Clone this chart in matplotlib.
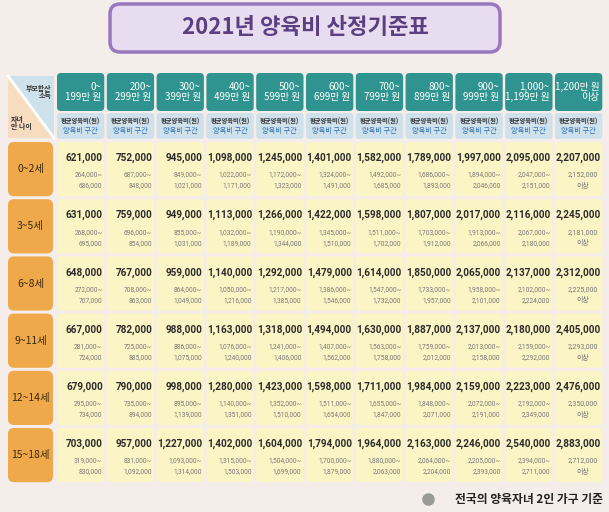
import matplotlib.pyplot as plt
from matplotlib.patches import FancyBboxPatch, Polygon

plt.rcParams["font.family"] = ["Noto Sans CJK JP", "DejaVu Sans"]
NUM = ["Roboto", "Noto Sans CJK JP"]

# 데이터
incomes = ["0~\n199만 원", "200~\n299만 원", "300~\n399만 원", "400~\n499만 원",
           "500~\n599만 원", "600~\n699만 원", "700~\n799만 원", "800~\n899만 원",
           "900~\n999만 원", "1,000~\n1,199만 원", "1,200만 원\n이상"]
ages = ["0~2세", "3~5세", "6~8세", "9~11세", "12~14세", "15~18세"]
avg = [
    [621000, 752000, 945000, 1098000, 1245000, 1401000, 1582000, 1789000, 1997000, 2095000, 2207000],
    [631000, 759000, 949000, 1113000, 1266000, 1422000, 1598000, 1807000, 2017000, 2116000, 2245000],
    [648000, 767000, 959000, 1140000, 1292000, 1479000, 1614000, 1850000, 2065000, 2137000, 2312000],
    [667000, 782000, 988000, 1163000, 1318000, 1494000, 1630000, 1887000, 2137000, 2180000, 2405000],
    [679000, 790000, 998000, 1280000, 1423000, 1598000, 1711000, 1984000, 2159000, 2223000, 2476000],
    [703000, 957000, 1227000, 1402000, 1604000, 1794000, 1964000, 2163000, 2246000, 2540000, 2883000],
]
low = [
    [264000, 687000, 849000, 1022000, 1172000, 1324000, 1492000, 1686000, 1894000, 2047000, 2152000],
    [268000, 696000, 855000, 1032000, 1190000, 1345000, 1511000, 1703000, 1913000, 2067000, 2181000],
    [272000, 708000, 864000, 1050000, 1217000, 1386000, 1547000, 1733000, 1958000, 2102000, 2225000],
    [281000, 725000, 886000, 1076000, 1241000, 1407000, 1563000, 1759000, 2013000, 2159000, 2293000],
    [295000, 735000, 895000, 1140000, 1352000, 1511000, 1655000, 1848000, 2072000, 2192000, 2350000],
    [319000, 831000, 1093000, 1315000, 1504000, 1700000, 1880000, 2064000, 2205000, 2394000, 2712000],
]
high = [
    [686000, 848000, 1021000, 1171000, 1323000, 1491000, 1685000, 1893000, 2046000, 2151000, None],
    [695000, 854000, 1031000, 1189000, 1344000, 1510000, 1702000, 1912000, 2066000, 2180000, None],
    [707000, 863000, 1049000, 1216000, 1385000, 1546000, 1732000, 1957000, 2101000, 2224000, None],
    [724000, 885000, 1075000, 1240000, 1406000, 1562000, 1758000, 2012000, 2158000, 2292000, None],
    [734000, 894000, 1139000, 1351000, 1510000, 1654000, 1847000, 2071000, 2191000, 2349000, None],
    [830000, 1092000, 1314000, 1503000, 1699000, 1879000, 2063000, 2204000, 2393000, 2711000, None],
]

fig = plt.figure(figsize=(6.09, 5.12), dpi=100)
fig.patch.set_facecolor("#f4ede9")
ax = fig.add_axes([0, 0, 1, 1])
ax.set_xlim(0, 609)
ax.set_ylim(512, 0)
ax.axis("off")

def box(x, y, w, h, fc, ec="none", r=4, lw=0):
    ax.add_patch(FancyBboxPatch((x + r, y + r), w - 2 * r, h - 2 * r,
                                boxstyle="round,pad=%d" % r, fc=fc, ec=ec, lw=lw))

# 제목
box(110, 4, 390, 48, "#e8ddf0", ec="#9a78bd", r=10, lw=2.5)
ax.text(305, 27, "2021년 양육비 산정기준표", ha="center", va="center",
        fontsize=16, color="#5b3f80", fontweight="bold")

# 모서리 칸
ax.add_patch(Polygon([(8, 76), (54, 76), (54, 138)], fc="#cfe1ea", ec="none"))
ax.add_patch(Polygon([(8, 76), (8, 138), (54, 138)], fc="#f7dcc0", ec="none"))
ax.plot([8, 54], [76, 138], color="white", lw=2)
ax.text(51, 92, "부모합산\n소득", ha="right", va="center", fontsize=5, fontweight="bold", color="#333", linespacing=1.1)
ax.text(11, 123, "자녀\n만 나이", ha="left", va="center", fontsize=5, fontweight="bold", color="#333", linespacing=1.1)

x0, cw, gap = 57, 49.8, 2.5
y0, rh = 142, 57.2
for j, lab in enumerate(incomes):
    x = x0 + j * cw
    w = cw - gap
    box(x, 73, w, 38, "#2f948f", r=4)
    ax.text(x + w - 3, 92, lab, ha="right", va="center", fontsize=7,
            color="white", linespacing=1.0)
    box(x, 113, w, 26, "#cfe1ea", r=3)
    ax.text(x + w / 2, 121, "평균양육비(원)", ha="center", va="center", fontsize=4.5, color="#333", fontweight="bold")
    ax.text(x + w / 2, 130.5, "양육비 구간", ha="center", va="center", fontsize=5.2, color="#2d6fb0")

for i, age in enumerate(ages):
    y = y0 + i * rh
    box(8, y, 45, rh - 3, "#f0a94a", r=6)
    ax.text(30.5, y + rh / 2 - 1.5, age, ha="center", va="center", fontsize=7.5, color="#3a2a10")
    for j in range(len(incomes)):
        x = x0 + j * cw
        w = cw - gap
        box(x, y, w, rh - 3, "#fbf5c6", r=3)
        ax.text(x + w - 1.5, y + 16, f"{avg[i][j]:,}", ha="right", va="center",
                fontsize=7.2, color="#2b2b2b", fontweight="bold", family=NUM)
        if high[i][j] is None:
            ax.text(x + w / 2 + 4, y + 33, f"{low[i][j]:,}", ha="center", va="center", fontsize=5, color="#777", family=NUM)
            ax.text(x + w / 2 + 4, y + 44, "이상", ha="center", va="center", fontsize=5, color="#777")
        else:
            ax.text(x + w - 2, y + 33, f"{low[i][j]:,}~", ha="right", va="center", fontsize=4.8, color="#777", family=NUM)
            ax.text(x + w - 2, y + 44, f"{high[i][j]:,}", ha="right", va="center", fontsize=4.8, color="#777", family=NUM)

ax.text(603, 499, "전국의 양육자녀 2인 가구 기준", ha="right", va="center", fontsize=8.5, color="#222", fontweight="bold")
ax.plot([428], [499], "o", ms=8, color="#999")

fig.savefig("out.png", dpi=100, facecolor=fig.get_facecolor())
